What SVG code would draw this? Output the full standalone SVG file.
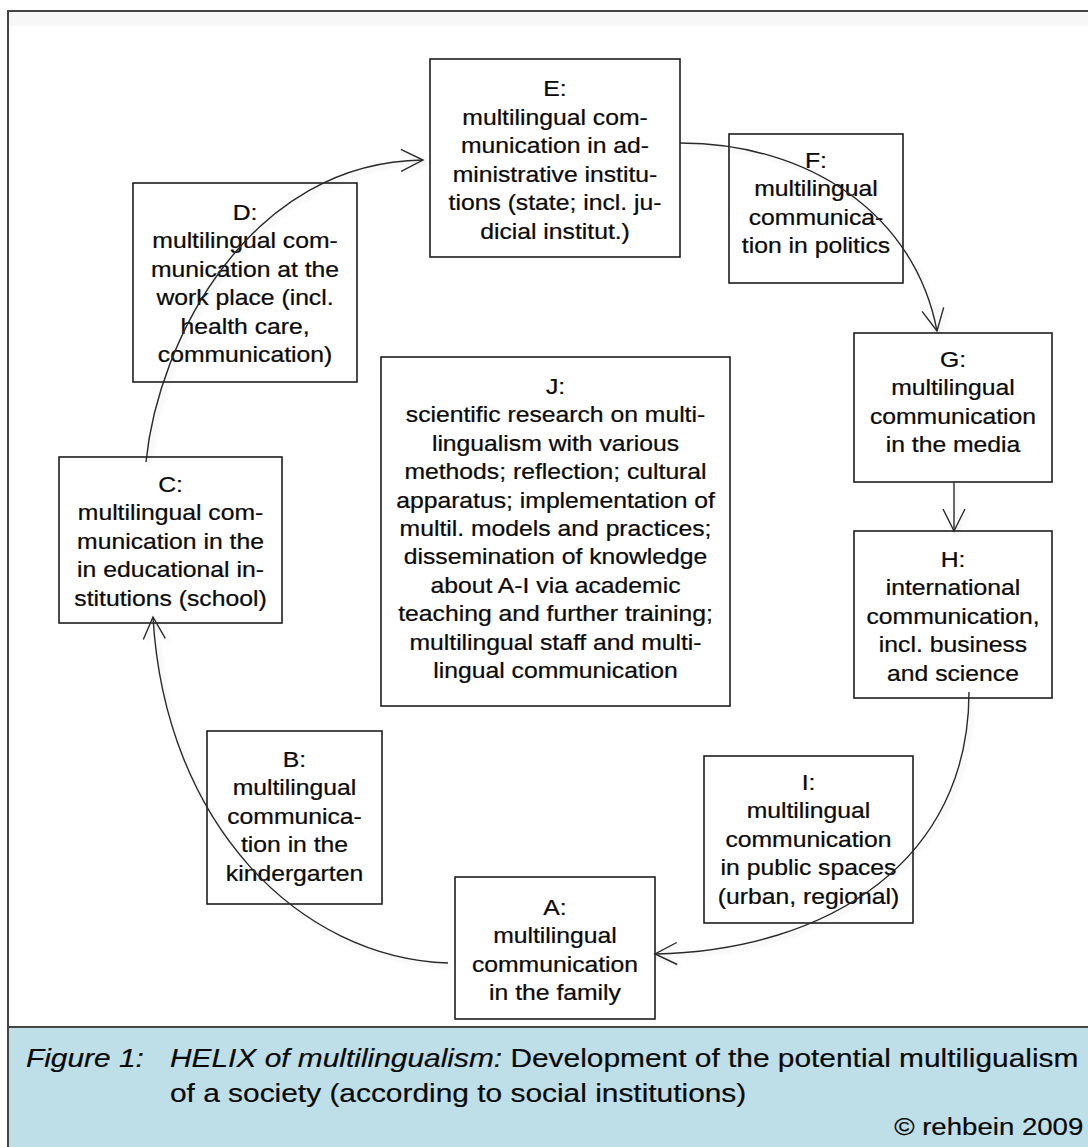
<svg xmlns="http://www.w3.org/2000/svg" width="1088" height="1147" viewBox="0 0 1088 1147">
<style>
.box{fill:#fff;stroke:#1e1e1e;stroke-width:1.6}
.t{font-family:"Liberation Sans",Arial,sans-serif;font-size:21.5px;fill:#0a0a0a;stroke:#0a0a0a;stroke-width:0.25;text-anchor:middle}
.cap{font-family:"Liberation Sans",Arial,sans-serif;font-size:26px;fill:#0a0a0a;stroke:#0a0a0a;stroke-width:0.2}
.con{fill:none;stroke:#2a2a2a;stroke-width:1.4}
</style>
<defs>
<marker id="arr" markerUnits="userSpaceOnUse" markerWidth="30" markerHeight="30" viewBox="-25 -15 30 30" refX="0" refY="0" orient="auto">
<path d="M-22,-11 L0,0 L-22,11" fill="none" stroke="#2a2a2a" stroke-width="1.4"/>
</marker>
<filter id="sh" x="-10%" y="-10%" width="120%" height="120%">
<feDropShadow dx="3" dy="3" stdDeviation="2" flood-color="#000" flood-opacity="0.1"/>
</filter>
</defs>
<rect x="0" y="0" width="1088" height="1147" fill="#fff"/>
<rect x="8" y="11" width="1090" height="1140" fill="#fff" stroke="#444" stroke-width="2"/>
<rect x="9" y="12" width="1079" height="14" fill="#f7f7f7"/>
<rect x="8" y="1027" width="1090" height="130" fill="#bfdfe8" stroke="#444" stroke-width="2"/>

<g id="node-E"><rect class="box" x="430" y="59" width="250" height="198"/>
<text class="t" transform="translate(555 0) scale(1.15 1)"><tspan x="0" y="96">E:</tspan><tspan x="0" y="125">multilingual com-</tspan><tspan x="0" y="153">munication in ad-</tspan><tspan x="0" y="182">ministrative institu-</tspan><tspan x="0" y="210">tions (state; incl. ju-</tspan><tspan x="0" y="239">dicial institut.)</tspan></text></g>

<g id="node-F"><rect class="box" x="729" y="134" width="174" height="149"/>
<text class="t" transform="translate(816 0) scale(1.15 1)"><tspan x="0" y="168">F:</tspan><tspan x="0" y="196.5">multilingual</tspan><tspan x="0" y="225">communica-</tspan><tspan x="0" y="253.5">tion in politics</tspan></text></g>

<g id="node-D"><rect class="box" x="133" y="183" width="224" height="199"/>
<text class="t" transform="translate(245 0) scale(1.15 1)"><tspan x="0" y="220">D:</tspan><tspan x="0" y="248.5">multilingual com-</tspan><tspan x="0" y="277">munication at the</tspan><tspan x="0" y="305.5">work place (incl.</tspan><tspan x="0" y="334">health care,</tspan><tspan x="0" y="362.5">communication)</tspan></text></g>

<g id="node-G"><rect class="box" x="854" y="333" width="198" height="149"/>
<text class="t" transform="translate(953 0) scale(1.15 1)"><tspan x="0" y="367">G:</tspan><tspan x="0" y="395.5">multilingual</tspan><tspan x="0" y="424">communication</tspan><tspan x="0" y="452.5">in the media</tspan></text></g>

<g id="node-J"><rect class="box" x="381" y="357" width="349" height="349"/>
<text class="t" transform="translate(555.5 0) scale(1.15 1)"><tspan x="0" y="394">J:</tspan><tspan x="0" y="422.4">scientific research on multi-</tspan><tspan x="0" y="450.8">lingualism with various</tspan><tspan x="0" y="479.2">methods; reflection; cultural</tspan><tspan x="0" y="507.6">apparatus; implementation of</tspan><tspan x="0" y="536">multil. models and practices;</tspan><tspan x="0" y="564.4">dissemination of knowledge</tspan><tspan x="0" y="592.8">about A-I via academic</tspan><tspan x="0" y="621.2">teaching and further training;</tspan><tspan x="0" y="649.6">multilingual staff and multi-</tspan><tspan x="0" y="678">lingual communication</tspan></text></g>

<g id="node-C"><rect class="box" x="59" y="457" width="223" height="166"/>
<text class="t" transform="translate(170.5 0) scale(1.15 1)"><tspan x="0" y="492">C:</tspan><tspan x="0" y="520.5">multilingual com-</tspan><tspan x="0" y="549">munication in the</tspan><tspan x="0" y="577.5">in educational in-</tspan><tspan x="0" y="606">stitutions (school)</tspan></text></g>

<g id="node-H"><rect class="box" x="854" y="531" width="198" height="167"/>
<text class="t" transform="translate(953 0) scale(1.15 1)"><tspan x="0" y="567">H:</tspan><tspan x="0" y="595.5">international</tspan><tspan x="0" y="624">communication,</tspan><tspan x="0" y="652.5">incl. business</tspan><tspan x="0" y="681">and science</tspan></text></g>

<g id="node-B"><rect class="box" x="207" y="731" width="175" height="173"/>
<text class="t" transform="translate(294.5 0) scale(1.15 1)"><tspan x="0" y="767">B:</tspan><tspan x="0" y="795.5">multilingual</tspan><tspan x="0" y="824">communica-</tspan><tspan x="0" y="852.5">tion in the</tspan><tspan x="0" y="881">kindergarten</tspan></text></g>

<g id="node-I"><rect class="box" x="704" y="756" width="209" height="167"/>
<text class="t" transform="translate(808.5 0) scale(1.15 1)"><tspan x="0" y="790">I:</tspan><tspan x="0" y="818.5">multilingual</tspan><tspan x="0" y="847">communication</tspan><tspan x="0" y="875.5">in public spaces</tspan><tspan x="0" y="904">(urban, regional)</tspan></text></g>

<g id="node-A"><rect class="box" x="455" y="877" width="200" height="142"/>
<text class="t" transform="translate(555 0) scale(1.15 1)"><tspan x="0" y="915">A:</tspan><tspan x="0" y="943.5">multilingual</tspan><tspan x="0" y="972">communication</tspan><tspan x="0" y="1000.5">in the family</tspan></text></g>

<g id="connectors" filter="url(#sh)">
<path class="con" d="M680,143 C810,143 915,215 937,331" marker-end="url(#arr)"/>
<path class="con" d="M954,482 L954,531" marker-end="url(#arr)"/>
<path class="con" d="M969,692 C969,860 830,950 655,954" marker-end="url(#arr)"/>
<path class="con" d="M448,963 C300,958 165,825 153,617" marker-end="url(#arr)"/>
<path class="con" d="M146,462 C158,340 250,162 423,160" marker-end="url(#arr)"/>
</g>

<g id="caption">
<text class="cap" transform="scale(1.15 1)"><tspan x="22.6" y="1067" font-style="italic">Figure 1:</tspan><tspan x="147.8" y="1067" font-style="italic">HELIX of multilingualism:</tspan><tspan> Development of the potential multiligualism</tspan></text>
<text class="cap" transform="scale(1.15 1)"><tspan x="147.8" y="1102">of a society (according to social institutions)</tspan></text>
<text class="cap" transform="scale(1.15 1)" text-anchor="end" style="font-size:24px"><tspan x="942" y="1135">© rehbein 2009</tspan></text>
</g>
</svg>
